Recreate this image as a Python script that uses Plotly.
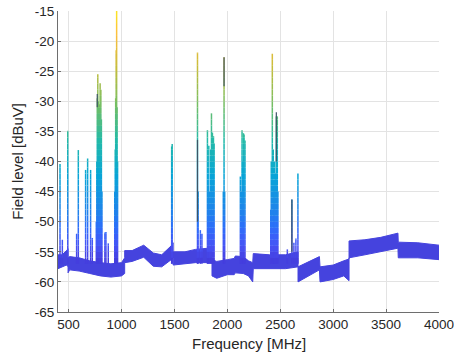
import plotly.graph_objects as go

# ---------------- data ----------------
# noise-floor envelope: frequency [MHz], upper and lower edge [dBuV]
floor_freq = [400, 440, 480, 495, 495, 510, 600, 700, 800, 900, 1000, 1030,
              1030, 1100, 1210, 1300, 1380, 1470, 1488, 1488, 1600, 1700,
              1820, 1855, 1855, 1900, 2000, 2065, 2075, 2150, 2200, 2240,
              2245, 2400, 2550, 2668, 2668, 2870, 2876, 3000, 3100, 3150,
              3150, 3300, 3450, 3612, 3615, 3800, 4000]
floor_top = [-55.5, -55.5, -54.8, -54.5, -56.0, -55.8, -56.0, -56.5, -56.8,
             -57.0, -56.8, -56.0, -54.8, -54.8, -53.9, -55.2, -55.5, -54.0,
             -53.5, -55.0, -55.0, -54.6, -54.4, -54.0, -56.3, -56.6, -56.3,
             -56.1, -55.7, -55.8, -56.5, -56.8, -55.3, -55.5, -55.5, -55.0,
             -57.5, -55.8, -57.5, -57.2, -56.5, -56.2, -53.2, -53.0, -52.6,
             -51.9, -53.4, -53.5, -53.9]
floor_bottom = [-57.8, -57.5, -57.2, -57.5, -58.5, -58.0, -58.2, -58.6, -59.0,
                -59.2, -59.0, -58.6, -56.8, -56.6, -55.9, -57.4, -57.5, -56.3,
                -56.0, -57.2, -57.0, -56.8, -56.8, -56.6, -59.0, -59.4, -58.8,
                -58.8, -58.5, -58.6, -59.0, -60.0, -57.8, -57.8, -57.8, -57.5,
                -60.0, -58.0, -60.0, -59.6, -59.0, -59.8, -56.0, -55.5, -55.0,
                -54.4, -56.0, -56.0, -56.3]

# emission peaks: frequency [MHz] and peak level [dBuV]
spike_freq = [419, 441, 492, 576, 592, 661, 680, 708, 724, 762, 767, 771, 776,
              781, 787, 793, 798, 805, 810, 815, 843, 853, 875, 936, 941, 945,
              950, 954, 958, 963, 1474, 1479, 1718, 1724, 1745, 1760, 1812,
              1818, 1825, 1832, 1843, 1850, 1859, 1869, 1875, 1962, 1969, 1975,
              2123, 2133, 2139, 2146, 2152, 2158, 2167, 2410, 2415, 2425, 2434,
              2441, 2447, 2455, 2463, 2472, 2478, 2567, 2610, 2629, 2648, 2667]
spike_peak = [-40.4, -53.0, -34.9, -52.0, -38.1, -41.4, -39.5, -41.4, -52.7,
              -50.0, -40.0, -29.5, -25.5, -30.0, -32.0, -30.5, -27.0, -28.1,
              -33.0, -45.0, -51.8, -51.7, -53.6, -45.0, -38.0, -29.5, -21.5,
              -15.0, -31.0, -40.0, -37.5, -37.1, -21.9, -45.0, -51.4, -52.0,
              -34.8, -44.0, -37.4, -45.0, -38.0, -32.0, -35.2, -35.8, -37.0,
              -45.0, -22.7, -45.0, -42.5, -45.0, -34.8, -40.0, -35.3, -35.5,
              -36.5, -48.0, -40.0, -22.1, -38.0, -44.0, -40.0, -42.0, -32.5,
              -32.5, -45.0, -54.6, -46.3, -53.5, -52.8, -42.0]

# darker overlapping traces visible on some peaks
dark_freq = [771, 1718, 1969, 2463, 2610]
dark_top = [-28.8, -36.4, -22.7, -31.8, -46.3]
dark_bottom = [-31.0, -50.0, -27.5, -40.0, -55.0]

x_ticks = [500, 1000, 1500, 2000, 2500, 3000, 3500, 4000]
y_ticks = [-65, -60, -55, -50, -45, -40, -35, -30, -25, -20, -15]
x_title = "Frequency [MHz]"
y_title = "Field level [dBuV]"

# ---------------- styling helpers ----------------
parula = [(0.0, (62, 38, 168)), (0.06, (67, 56, 215)), (0.125, (72, 82, 245)),
          (0.19, (46, 110, 250)), (0.25, (32, 132, 235)), (0.375, (8, 165, 215)),
          (0.5, (36, 186, 168)), (0.625, (115, 190, 100)), (0.75, (195, 189, 60)),
          (0.875, (253, 190, 60)), (1.0, (249, 251, 21))]
CMIN, CMAX = -60.0, -13.0


def cmap(v):
    t = min(max((v - CMIN) / (CMAX - CMIN), 0.0), 1.0)
    for (t0, c0), (t1, c1) in zip(parula[:-1], parula[1:]):
        if t <= t1:
            a = (t - t0) / (t1 - t0) if t1 > t0 else 0
            c = [round(c0[i] + a * (c1[i] - c0[i])) for i in range(3)]
            return f"rgb({c[0]},{c[1]},{c[2]})"
    return "rgb(249,251,21)"


FLOOR = "#4543de"
fig = go.Figure()

# noise floor band
fig.add_trace(go.Scatter(x=floor_freq, y=floor_bottom, mode="lines",
                         line=dict(color=FLOOR, width=1), hoverinfo="skip",
                         showlegend=False))
fig.add_trace(go.Scatter(x=floor_freq, y=floor_top, mode="lines",
                         line=dict(color=FLOOR, width=1), fill="tonexty",
                         fillcolor=FLOOR, hoverinfo="skip", showlegend=False))

# spikes, coloured by level in 1 dB bands
base = -57
level = base
while level < -14:
    xs, ys = [], []
    for f, p in zip(spike_freq, spike_peak):
        if p > level:
            xs += [f, f, None]
            ys += [level, min(level + 1, p), None]
    if xs:
        fig.add_trace(go.Scatter(x=xs, y=ys, mode="lines",
                                 line=dict(color=cmap(level + 0.5), width=1.5),
                                 hoverinfo="skip", showlegend=False))
    level += 1

xs, ys = [], []
for f, t, b in zip(dark_freq, dark_top, dark_bottom):
    xs += [f, f, None]
    ys += [b, t, None]
fig.add_trace(go.Scatter(x=xs, y=ys, mode="lines",
                         line=dict(color="#3d5566", width=1.2),
                         hoverinfo="skip", showlegend=False))

FONT = "Liberation Sans, Arial, sans-serif"
TXT = "#262626"
axis_common = dict(showgrid=True, gridcolor="#e3e3e3", gridwidth=1, zeroline=False,
                   showline=True, linecolor="#6e6e6e", linewidth=1, mirror=False,
                   ticks="inside", ticklen=3, tickcolor="#6e6e6e",
                   tickfont=dict(size=13.5, color=TXT), automargin=False)
fig.update_layout(
    width=454, height=354,
    margin=dict(l=58, r=15, t=11, b=42, autoexpand=False),
    paper_bgcolor="white", plot_bgcolor="white",
    font=dict(family=FONT, size=14, color=TXT),
    showlegend=False,
    xaxis=dict(range=[400, 4000], tickvals=x_ticks, ticktext=[str(v) for v in x_ticks],
               ticklabeloverflow="allow", **axis_common),
    yaxis=dict(range=[-65, -15], tickvals=y_ticks, ticktext=[str(v) for v in y_ticks],
               **axis_common),
    annotations=[
        dict(text=x_title, xref="paper", yref="paper", x=0.5, y=-0.103,
             xanchor="center", yanchor="middle", showarrow=False,
             font=dict(size=15, color=TXT, family=FONT)),
        dict(text=y_title, xref="paper", yref="paper", x=-0.107, y=0.5,
             xanchor="center", yanchor="middle", textangle=-90, showarrow=False,
             font=dict(size=15, color=TXT, family=FONT)),
    ],
)

fig.write_html("out.html",
               config={"displayModeBar": False},
               post_script="document.body.style.margin='0';"
                           "document.body.style.overflow='hidden';")
